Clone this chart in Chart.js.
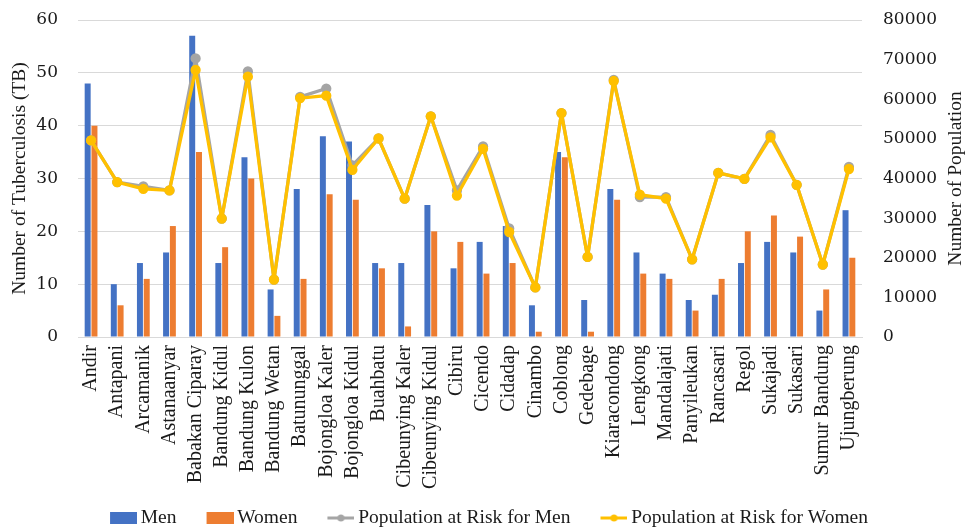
<!DOCTYPE html>
<html>
<head>
<meta charset="utf-8">
<script src="https://cdn.jsdelivr.net/npm/chart.js@4.4.1/dist/chart.umd.min.js"></script>
<style>
  html, body { margin: 0; padding: 0; background: #ffffff; }
  #wrap { width: 968px; height: 531px; position: relative; }
</style>
</head>
<body>
<div id="wrap"><canvas id="tbChart"></canvas></div>
<script>
// Sub-districts of Bandung
const districts = [
  'Andir', 'Antapani', 'Arcamanik', 'Astanaanyar', 'Babakan Ciparay',
  'Bandung Kidul', 'Bandung Kulon', 'Bandung Wetan', 'Batununggal', 'Bojongloa Kaler',
  'Bojongloa Kidul', 'Buahbatu', 'Cibeunying Kaler', 'Cibeunying Kidul', 'Cibiru',
  'Cicendo', 'Cidadap', 'Cinambo', 'Coblong', 'Gedebage',
  'Kiaracondong', 'Lengkong', 'Mandalajati', 'Panyileukan', 'Rancasari',
  'Regol', 'Sukajadi', 'Sukasari', 'Sumur Bandung', 'Ujungberung'
];

// TB cases
const tbMen = [48, 10, 14, 16, 57, 14, 34, 9, 28, 38, 37, 14, 14, 25, 13, 18, 21, 6, 35, 7, 28, 16, 12, 7, 8, 14, 18, 16, 5, 24];
const tbWomen = [40, 6, 11, 21, 35, 17, 30, 4, 11, 27, 26, 13, 2, 20, 18, 12, 14, 1, 34, 1, 26, 12, 11, 5, 11, 20, 23, 19, 9, 15];

// Population at risk
const popMen = [49600, 39100, 38000, 37000, 70300, 29900, 67000, 14500, 60600, 62700,
  43300, 50100, 34900, 55700, 37000, 48100, 27400, 12500, 56500, 20200,
  64900, 35300, 35300, 19600, 41400, 39900, 51000, 38400, 18300, 42900];
const popWomen = [49600, 39100, 37400, 37000, 67400, 29900, 65700, 14500, 60300, 60900,
  42200, 50100, 34900, 55700, 35700, 47500, 26500, 12500, 56500, 20200,
  64600, 35900, 34900, 19600, 41400, 39900, 50400, 38400, 18300, 42400];

const leftTicks = { min: 0, max: 60, step: 10 };
const rightTicks = { min: 0, max: 80000, step: 10000 };

const colors = {
  men: '#4472C4',
  women: '#ED7D31',
  popMen: '#A5A5A5',
  popWomen: '#FFC000',
  grid: '#D9D9D9',
  text: '#1a1a1a'
};

const serif = '"Liberation Serif", "Times New Roman", serif';
const tickSerif = '"DejaVu Serif", serif';

// legend swatches: small canvases, mark pushed to the right so it sits next to its text
function swatch(color, kind) {
  const c = document.createElement('canvas');
  c.width = 59;
  c.height = 14;
  const g = c.getContext('2d');
  if (kind === 'box') {
    g.fillStyle = color;
    g.fillRect(32, 1, 27, 12);
  } else {
    g.strokeStyle = color;
    g.lineWidth = 3;
    g.beginPath();
    g.moveTo(32, 7);
    g.lineTo(59, 7);
    g.stroke();
    g.fillStyle = color;
    g.beginPath();
    g.arc(45.5, 7, 3.5, 0, Math.PI * 2);
    g.fill();
  }
  return c;
}
const legendIcons = [
  swatch(colors.men, 'box'),
  swatch(colors.women, 'box'),
  swatch(colors.popMen, 'line'),
  swatch(colors.popWomen, 'line')
];

// right axis title reads bottom-to-top, like the left one
const rightTitle = {
  id: 'rightTitle',
  afterDraw(chart) {
    const { ctx, chartArea } = chart;
    ctx.save();
    ctx.translate(956, (chartArea.top + chartArea.bottom) / 2);
    ctx.rotate(-Math.PI / 2);
    ctx.font = '19.5px ' + serif;
    ctx.fillStyle = colors.text;
    ctx.textAlign = 'center';
    ctx.textBaseline = 'middle';
    ctx.fillText('Number of Population', 0, 0);
    ctx.restore();
  }
};

const ctx = document.getElementById('tbChart').getContext('2d');
new Chart(ctx, {
  type: 'bar',
  data: {
    labels: districts,
    datasets: [
      {
        label: 'Men',
        data: tbMen,
        backgroundColor: colors.men,
        yAxisID: 'y',
        order: 2,
        categoryPercentage: 0.52,
        barPercentage: 0.88
      },
      {
        label: 'Women',
        data: tbWomen,
        backgroundColor: colors.women,
        yAxisID: 'y',
        order: 3,
        categoryPercentage: 0.52,
        barPercentage: 0.88
      },
      {
        type: 'line',
        label: 'Population at Risk for Men',
        data: popMen,
        borderColor: colors.popMen,
        backgroundColor: colors.popMen,
        borderWidth: 3.3,
        borderJoinStyle: 'round',
        pointRadius: 3.5,
        pointHoverRadius: 4,
        tension: 0,
        yAxisID: 'y2',
        order: 1
      },
      {
        type: 'line',
        label: 'Population at Risk for Women',
        data: popWomen,
        borderColor: colors.popWomen,
        backgroundColor: colors.popWomen,
        borderWidth: 3.3,
        borderJoinStyle: 'round',
        pointRadius: 3.5,
        pointHoverRadius: 4,
        tension: 0,
        yAxisID: 'y2',
        order: 0
      }
    ]
  },
  options: {
    responsive: true,
    maintainAspectRatio: false,
    animation: false,
    layout: {
      padding: { top: 20, bottom: -6.75, left: -16, right: 0 }
    },
    plugins: {
      tooltip: { enabled: false },
      legend: {
        position: 'bottom',
        labels: {
          usePointStyle: true,
          pointStyleWidth: 47,
          padding: 4,
          color: colors.text,
          font: { family: serif, size: 19.5 },
          sort: (a, b) => a.datasetIndex - b.datasetIndex,
          generateLabels(chart) {
            const items = Chart.defaults.plugins.legend.labels.generateLabels(chart);
            items.forEach(item => { item.pointStyle = legendIcons[item.datasetIndex]; });
            return items;
          }
        }
      }
    },
    scales: {
      x: {
        grid: { display: false, drawTicks: false },
        border: { display: true, color: colors.grid },
        ticks: {
          autoSkip: false,
          maxRotation: 90,
          minRotation: 90,
          padding: 8,
          color: colors.text,
          font: { family: serif, size: 20 }
        },
        afterFit(scale) { scale.height = 167.25; }
      },
      y: {
        position: 'left',
        min: leftTicks.min,
        max: leftTicks.max,
        ticks: {
          stepSize: leftTicks.step,
          padding: 0,
          color: colors.text,
          font: { family: tickSerif, size: 17 }
        },
        // invisible tick marks keep the labels away from the plot
        grid: { color: colors.grid, drawTicks: true, tickLength: 20, tickColor: 'rgba(0,0,0,0)' },
        border: { display: false },
        title: {
          display: true,
          text: 'Number of Tuberculosis (TB)',
          color: colors.text,
          font: { family: serif, size: 19.5 },
          padding: { top: 24, bottom: 0 }
        },
        afterFit(scale) { scale.width = 94; }
      },
      y2: {
        position: 'right',
        min: rightTicks.min,
        max: rightTicks.max,
        ticks: {
          stepSize: rightTicks.step,
          padding: 0,
          color: colors.text,
          font: { family: tickSerif, size: 17 },
          callback: v => String(v)
        },
        grid: { drawOnChartArea: false, drawTicks: true, tickLength: 21, tickColor: 'rgba(0,0,0,0)' },
        border: { display: false },
        afterFit(scale) { scale.width = 106; }
      }
    }
  },
  plugins: [rightTitle]
});
</script>
</body>
</html>
